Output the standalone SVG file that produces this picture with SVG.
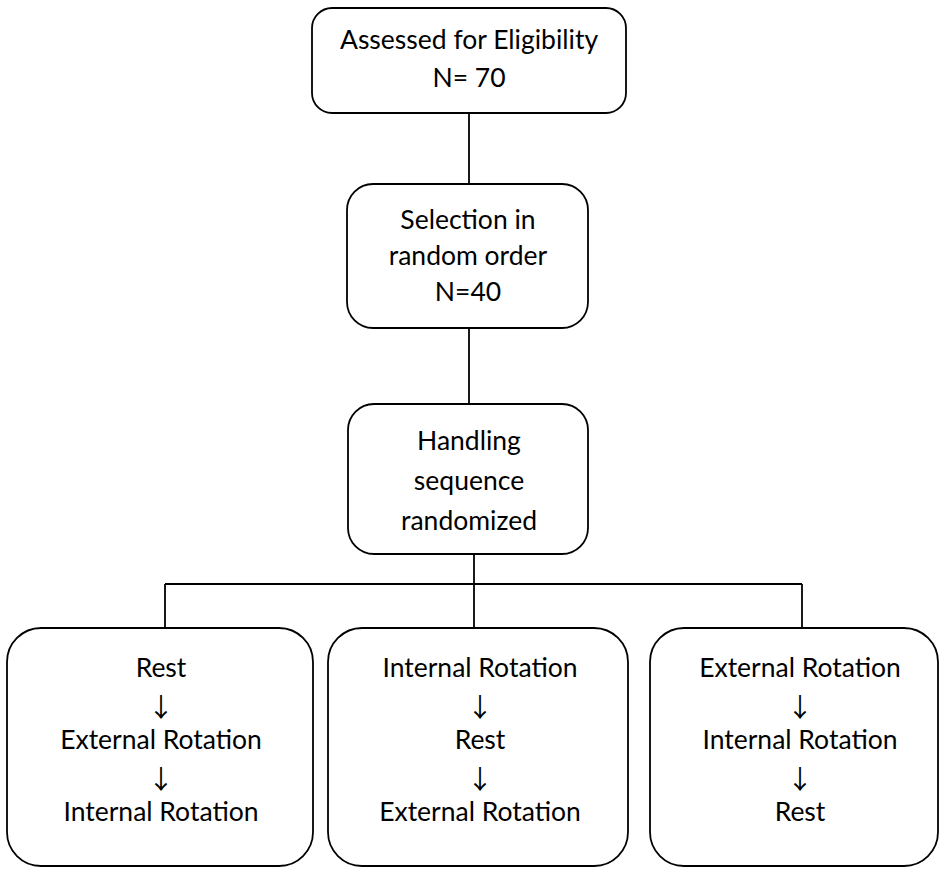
<svg xmlns="http://www.w3.org/2000/svg" width="939" height="869" viewBox="0 0 939 869">
<style>
.box{fill:#fff;stroke:#000;stroke-width:1.8}
.t{font-family:Lato,"Liberation Sans",sans-serif;font-size:26.5px;fill:#000;text-anchor:middle}
.a{font-family:"Noto Sans CJK SC","DejaVu Sans",sans-serif;font-size:26px;fill:#000;text-anchor:middle}
.c{fill:none;stroke:#000;stroke-width:1.8}
</style>
<rect width="939" height="869" fill="#fff"/>
<g id="connectors">
<path class="c" d="M469 113V184"/>
<path class="c" d="M469 328V404"/>
<path class="c" d="M474 554V628"/>
<path class="c" d="M165 584H802"/>
<path class="c" d="M165 584V628"/>
<path class="c" d="M802 584V628"/>
</g>
<g id="n1">
<rect class="box" x="312" y="8" width="314" height="105" rx="20"/>
<text class="t" x="469" y="49">Assessed for Eligibility</text>
<text class="t" x="469" y="87">N= 70</text>
</g>
<g id="n2">
<rect class="box" x="347" y="184" width="241" height="144" rx="26"/>
<text class="t" x="468" y="229">Selection in</text>
<text class="t" x="468" y="265">random order</text>
<text class="t" x="468" y="301">N=40</text>
</g>
<g id="n3">
<rect class="box" x="348" y="404" width="240" height="150" rx="26"/>
<text class="t" x="469" y="450">Handling</text>
<text class="t" x="469" y="490">sequence</text>
<text class="t" x="469" y="530">randomized</text>
</g>
<g id="n4">
<rect class="box" x="7" y="628" width="306" height="238" rx="34"/>
<text class="t" x="161" y="677">Rest</text>
<text class="a" x="161" y="717">↓</text>
<text class="t" x="161" y="749">External Rotation</text>
<text class="a" x="161" y="789">↓</text>
<text class="t" x="161" y="821">Internal Rotation</text>
</g>
<g id="n5">
<rect class="box" x="328" y="628" width="300" height="238" rx="34"/>
<text class="t" x="480" y="677">Internal Rotation</text>
<text class="a" x="480" y="717">↓</text>
<text class="t" x="480" y="749">Rest</text>
<text class="a" x="480" y="789">↓</text>
<text class="t" x="480" y="821">External Rotation</text>
</g>
<g id="n6">
<rect class="box" x="650" y="628" width="288" height="238" rx="34"/>
<text class="t" x="800" y="677">External Rotation</text>
<text class="a" x="800" y="717">↓</text>
<text class="t" x="800" y="749">Internal Rotation</text>
<text class="a" x="800" y="789">↓</text>
<text class="t" x="800" y="821">Rest</text>
</g>
</svg>
